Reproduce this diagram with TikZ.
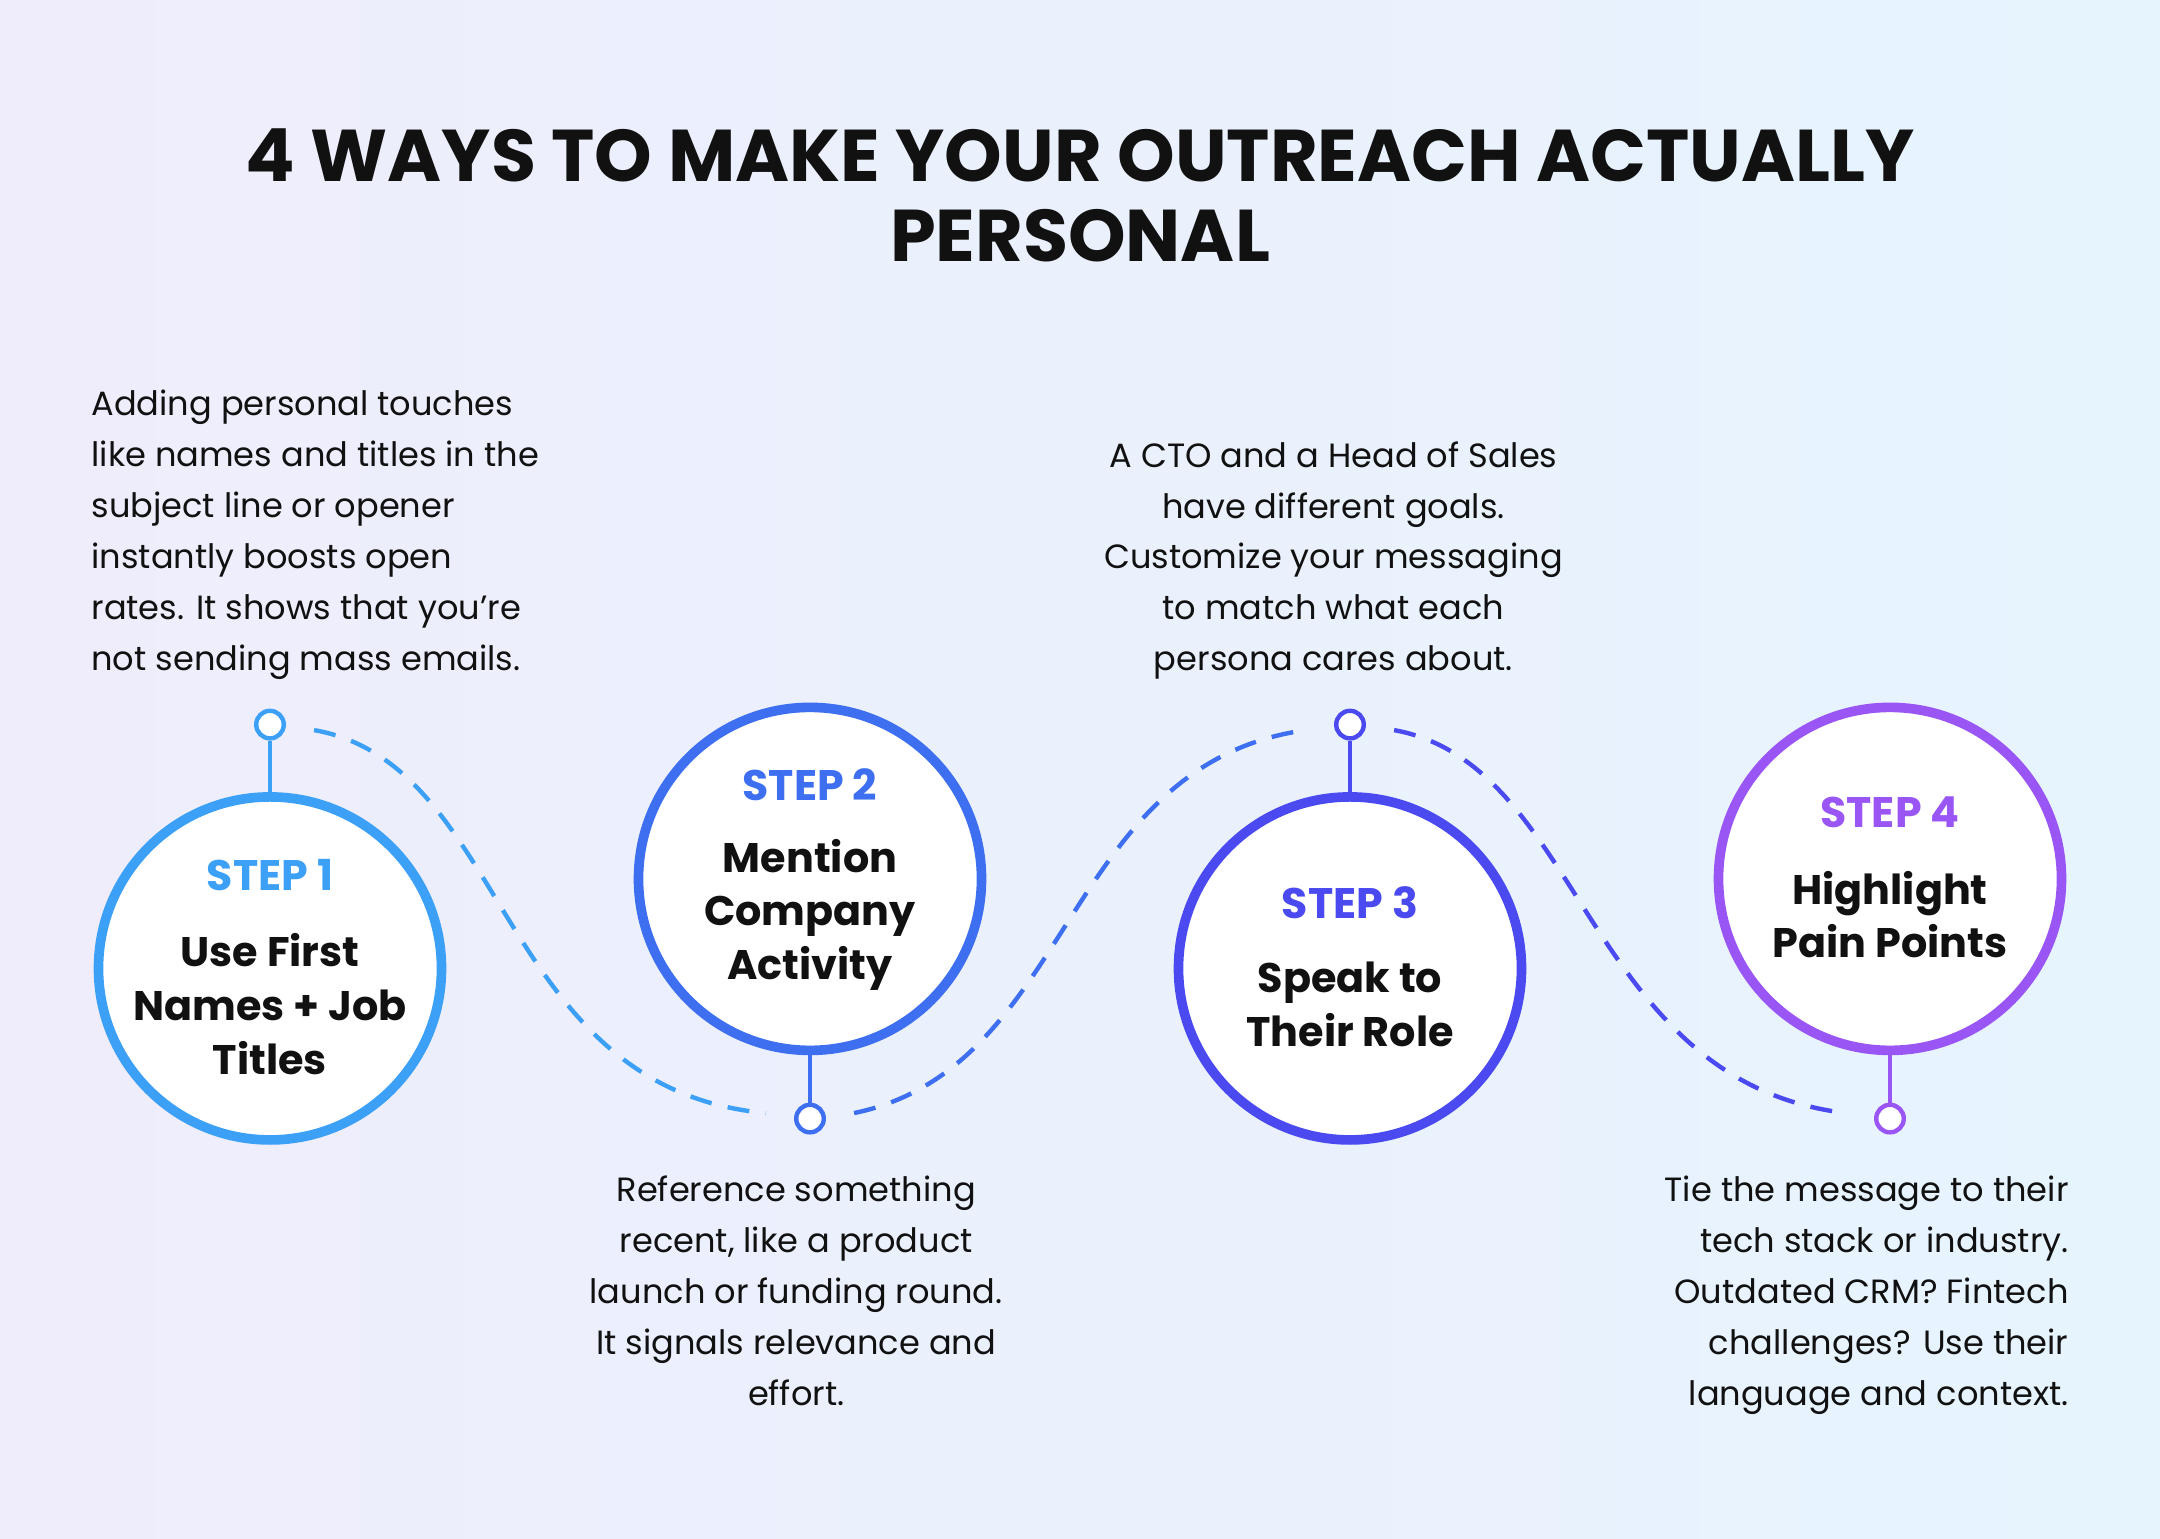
\documentclass[tikz,border=0pt]{standalone}
\usepackage{fontspec}
\setmainfont{Poppins}
\definecolor{cA}{HTML}{3DA0F7}
\definecolor{cB}{HTML}{3D6FF0}
\definecolor{cC}{HTML}{4A4AF0}
\definecolor{cD}{HTML}{9A55F5}
\definecolor{ink}{HTML}{111111}
\definecolor{bgL}{HTML}{EFEDFC}
\definecolor{bgR}{HTML}{E6F4FE}
\begin{document}
\begin{tikzpicture}[x=0.5pt,y=-0.5pt,
  stepcirc/.style={circle,draw=#1,line width=3.5pt,fill=white,minimum size=124.5pt,inner sep=0pt},
  pin/.style={circle,draw=#1,line width=1.6pt,fill=white,minimum size=10pt,inner sep=0pt},
  stem/.style={draw=#1,line width=1.6pt},
  curve/.style={draw=#1,line width=1.6pt,dash pattern=on 8pt off 6pt},
  body/.style={font=\fontsize{12.2}{18.5}\selectfont,text=ink,inner sep=0pt},
  ctitle/.style={font=\fontsize{15}{19.5}\selectfont\bfseries,text=ink,align=center,inner sep=0pt},
  steplab/.style={font=\fontsize{15.5}{19}\selectfont\bfseries,text=#1,inner sep=0pt}]
\shade[left color=bgL,right color=bgR] (0,0) rectangle (1568,1117);
\useasboundingbox (0,0) rectangle (1568,1117);
\node[font=\fontsize{26.6}{29}\selectfont\bfseries,text=ink,align=center] (title) at (784,142) {4 WAYS TO MAKE YOUR OUTREACH ACTUALLY\\PERSONAL};
\coordinate (a1) at (228,530); \coordinate (a2) at (556,808);
\coordinate (b1) at (620,808); \coordinate (b2) at (948,530);
\coordinate (c1) at (1012,530); \coordinate (c2) at (1340,808);
\draw[curve=cA] (a1) .. controls (370,555) and (360,790) .. (a2);
\draw[curve=cB] (b1) .. controls (780,775) and (770,555) .. (b2);
\draw[curve=cC] (c1) .. controls (1150,555) and (1150,785) .. (c2);
\node[stepcirc=cA] (s1) at (196,703) {};
\node[stepcirc=cB] (s2) at (588,638) {};
\node[stepcirc=cC] (s3) at (980,703) {};
\node[stepcirc=cD] (s4) at (1372,638) {};
\node[pin=cA] (p1) at (196,526) {};
\node[pin=cB] (p2) at (588,812) {};
\node[pin=cC] (p3) at (980,526) {};
\node[pin=cD] (p4) at (1372,812) {};
\draw[stem=cA] (p1) -- (s1);
\draw[stem=cB] (p2) -- (s2);
\draw[stem=cC] (p3) -- (s3);
\draw[stem=cD] (p4) -- (s4);
\node[steplab=cA] (l1) at (196,635) {STEP 1};
\node[ctitle] (t1) at (196,729) {Use First\\Names + Job\\Titles};
\node[steplab=cB] (l2) at (588,570) {STEP 2};
\node[ctitle] (t2) at (588,664) {Mention\\Company\\Activity};
\node[steplab=cC] (l3) at (980,655) {STEP 3};
\node[ctitle] (t3) at (980,729) {Speak to\\Their Role};
\node[steplab=cD] (l4) at (1372,590) {STEP 4};
\node[ctitle] (t4) at (1372,664) {Highlight\\Pain Points};
\node[body,align=left,anchor=north west] (d1) at (66,283) {Adding personal touches\\like names and titles in the\\subject line or opener\\instantly boosts open\\rates. It shows that you’re\\not sending mass emails.};
\node[body,align=center,anchor=north] (d3) at (968,320) {A CTO and a Head of Sales\\have different goals.\\Customize your messaging\\to match what each\\persona cares about.};
\node[body,align=center,anchor=north] (d2) at (578,853) {Reference something\\recent, like a product\\launch or funding round.\\It signals relevance and\\effort.};
\node[body,align=right,anchor=north east] (d4) at (1502,853) {Tie the message to their\\tech stack or industry.\\Outdated CRM? Fintech\\challenges? Use their\\language and context.};
\end{tikzpicture}
\end{document}
